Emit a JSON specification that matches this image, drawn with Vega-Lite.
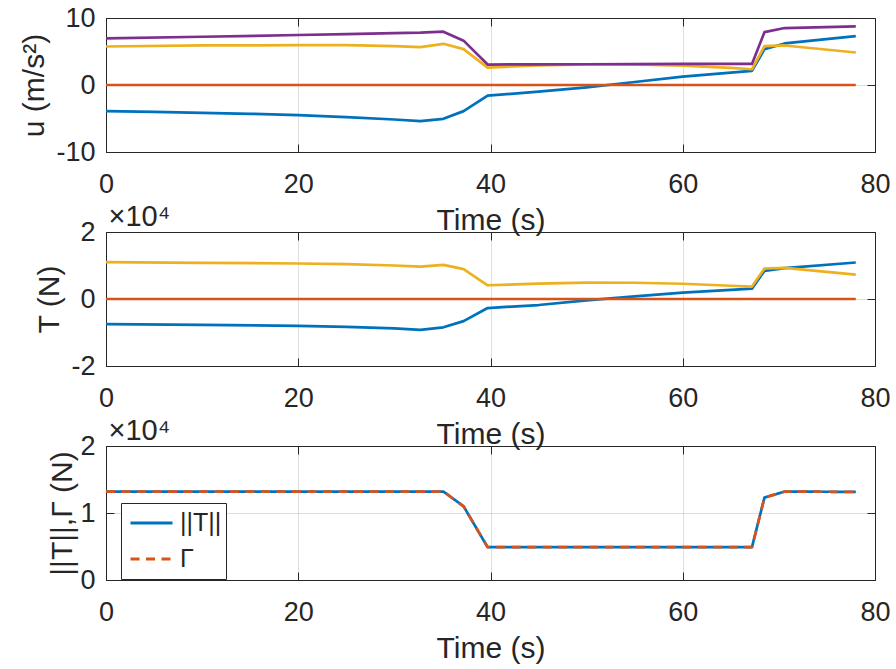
{
  "$schema": "https://vega.github.io/schema/vega-lite/v6.json",
  "background": "white",
  "padding": {"left": 18, "top": 3, "right": 0, "bottom": 0},
  "datasets": {
    "u": [
      {"s":"u1","t":0,"v":-3.9},{"s":"u1","t":5,"v":-4.0},{"s":"u1","t":10,"v":-4.15},{"s":"u1","t":15,"v":-4.3},{"s":"u1","t":20,"v":-4.5},{"s":"u1","t":25,"v":-4.8},{"s":"u1","t":30,"v":-5.15},{"s":"u1","t":32.7,"v":-5.4},{"s":"u1","t":35.1,"v":-5.05},{"s":"u1","t":37.2,"v":-3.9},{"s":"u1","t":39.7,"v":-1.6},{"s":"u1","t":45,"v":-1.0},{"s":"u1","t":50,"v":-0.35},{"s":"u1","t":55,"v":0.45},{"s":"u1","t":60,"v":1.25},{"s":"u1","t":65,"v":1.85},{"s":"u1","t":67.2,"v":2.1},{"s":"u1","t":68.5,"v":5.35},{"s":"u1","t":70.6,"v":6.2},{"s":"u1","t":78,"v":7.3},
      {"s":"u2","t":0,"v":0},{"s":"u2","t":78,"v":0},
      {"s":"u3","t":0,"v":5.75},{"s":"u3","t":10,"v":5.9},{"s":"u3","t":20,"v":5.95},{"s":"u3","t":25,"v":5.95},{"s":"u3","t":30,"v":5.8},{"s":"u3","t":32.7,"v":5.65},{"s":"u3","t":35.1,"v":6.15},{"s":"u3","t":37.2,"v":5.35},{"s":"u3","t":39.7,"v":2.6},{"s":"u3","t":45,"v":2.93},{"s":"u3","t":50,"v":3.08},{"s":"u3","t":55,"v":3.09},{"s":"u3","t":60,"v":2.89},{"s":"u3","t":65,"v":2.55},{"s":"u3","t":67.2,"v":2.35},{"s":"u3","t":68.5,"v":5.8},{"s":"u3","t":70.6,"v":5.9},{"s":"u3","t":78,"v":4.85},
      {"s":"u_norm","t":0,"v":6.95},{"s":"u_norm","t":10,"v":7.2},{"s":"u_norm","t":20,"v":7.46},{"s":"u_norm","t":25,"v":7.6},{"s":"u_norm","t":30,"v":7.75},{"s":"u_norm","t":32.7,"v":7.82},{"s":"u_norm","t":35.1,"v":7.96},{"s":"u_norm","t":37.2,"v":6.62},{"s":"u_norm","t":39.7,"v":3.05},{"s":"u_norm","t":45,"v":3.09},{"s":"u_norm","t":50,"v":3.1},{"s":"u_norm","t":55,"v":3.12},{"s":"u_norm","t":60,"v":3.15},{"s":"u_norm","t":65,"v":3.16},{"s":"u_norm","t":67.2,"v":3.15},{"s":"u_norm","t":68.5,"v":7.89},{"s":"u_norm","t":70.6,"v":8.5},{"s":"u_norm","t":78,"v":8.76}
    ],
    "T": [
      {"s":"T1","t":0,"v":-7500},{"s":"T1","t":10,"v":-7700},{"s":"T1","t":20,"v":-8000},{"s":"T1","t":25,"v":-8300},{"s":"T1","t":30,"v":-8750},{"s":"T1","t":32.7,"v":-9200},{"s":"T1","t":35.1,"v":-8450},{"s":"T1","t":37.2,"v":-6600},{"s":"T1","t":39.7,"v":-2700},{"s":"T1","t":45,"v":-1800},{"s":"T1","t":50,"v":-400},{"s":"T1","t":55,"v":800},{"s":"T1","t":60,"v":1900},{"s":"T1","t":65,"v":2700},{"s":"T1","t":67.2,"v":3100},{"s":"T1","t":68.5,"v":8400},{"s":"T1","t":70.6,"v":9200},{"s":"T1","t":78,"v":10900},
      {"s":"T2","t":0,"v":0},{"s":"T2","t":78,"v":0},
      {"s":"T3","t":0,"v":11000},{"s":"T3","t":10,"v":10800},{"s":"T3","t":20,"v":10600},{"s":"T3","t":25,"v":10400},{"s":"T3","t":30,"v":10000},{"s":"T3","t":32.7,"v":9650},{"s":"T3","t":35.1,"v":10200},{"s":"T3","t":37.2,"v":8900},{"s":"T3","t":39.7,"v":4100},{"s":"T3","t":45,"v":4600},{"s":"T3","t":50,"v":4900},{"s":"T3","t":55,"v":4850},{"s":"T3","t":60,"v":4550},{"s":"T3","t":65,"v":3950},{"s":"T3","t":67.2,"v":3700},{"s":"T3","t":68.5,"v":9100},{"s":"T3","t":70.6,"v":9300},{"s":"T3","t":78,"v":7300}
    ],
    "N": [
      {"s":"||T||","t":0,"v":13200},{"s":"||T||","t":35.1,"v":13200},{"s":"||T||","t":37.2,"v":11000},{"s":"||T||","t":39.7,"v":4900},{"s":"||T||","t":67.2,"v":4900},{"s":"||T||","t":68.5,"v":12300},{"s":"||T||","t":70.6,"v":13200},{"s":"||T||","t":78,"v":13150},
      {"s":"Γ","t":0,"v":13200},{"s":"Γ","t":35.1,"v":13200},{"s":"Γ","t":37.2,"v":11000},{"s":"Γ","t":39.7,"v":4900},{"s":"Γ","t":67.2,"v":4900},{"s":"Γ","t":68.5,"v":12300},{"s":"Γ","t":70.6,"v":13200},{"s":"Γ","t":78,"v":13150}
    ]
  },
  "spacing": 80,
  "bounds": "flush",
  "resolve": {"legend": {"color": "independent", "strokeDash": "independent"}, "scale": {"color": "independent", "strokeDash": "independent"}},
  "vconcat": [
    {
      "width": 769, "height": 134,
      "layer": [
        {"data": {"name": "u"}, "mark": {"type": "line", "strokeWidth": 2.7, "strokeJoin": "round"},
         "encoding": {
           "x": {"field": "t", "type": "quantitative", "scale": {"domain": [0, 80], "nice": false, "zero": false},
                 "axis": {"orient": "bottom", "values": [0, 20, 40, 60, 80], "grid": true, "title": "Time (s)", "titleY": 77, "titleBaseline": "alphabetic", "labelPadding": 27}},
           "y": {"field": "v", "type": "quantitative", "scale": {"domain": [-10, 10], "nice": false},
                 "axis": {"orient": "left", "values": [-10, 0, 10], "labelExpr": "'' + datum.value", "grid": true, "title": "u (m/s²)", "titleX": -63, "titleBaseline": "alphabetic", "labelPadding": 19}},
           "color": {"field": "s", "type": "nominal", "scale": {"domain": ["u1", "u2", "u3", "u_norm"], "range": ["#0072BD", "#D95319", "#EDB120", "#7E2F8E"]}, "legend": null}
         }},
        {"data": {"name": "u"}, "mark": {"type": "point", "opacity": 0},
         "encoding": {
           "x": {"field": "t", "type": "quantitative", "axis": {"orient": "top", "values": [0, 20, 40, 60, 80], "labels": false, "grid": false, "title": null}},
           "y": {"field": "v", "type": "quantitative", "axis": {"orient": "right", "values": [-10, 0, 10], "labels": false, "grid": false, "title": null}}
         }}
      ],
      "resolve": {"axis": {"x": "independent", "y": "independent"}}
    },
    {
      "width": 769, "height": 134,
      "layer": [
        {"data": {"name": "T"}, "mark": {"type": "line", "strokeWidth": 2.7, "strokeJoin": "round"},
         "encoding": {
           "x": {"field": "t", "type": "quantitative", "scale": {"domain": [0, 80], "nice": false, "zero": false},
                 "axis": {"orient": "bottom", "values": [0, 20, 40, 60, 80], "grid": true, "title": "Time (s)", "titleY": 77, "titleBaseline": "alphabetic", "labelPadding": 27}},
           "y": {"field": "v", "type": "quantitative", "scale": {"domain": [-20000, 20000], "nice": false},
                 "axis": {"orient": "left", "values": [-20000, 0, 20000], "labelExpr": "'' + (datum.value / 10000)", "grid": true, "title": "T (N)", "titleX": -48, "titleBaseline": "alphabetic", "labelPadding": 19}},
           "color": {"field": "s", "type": "nominal", "scale": {"domain": ["T1", "T2", "T3"], "range": ["#0072BD", "#D95319", "#EDB120"]}, "legend": null}
         }},
        {"data": {"name": "T"}, "mark": {"type": "point", "opacity": 0},
         "encoding": {
           "x": {"field": "t", "type": "quantitative", "axis": {"orient": "top", "values": [0, 20, 40, 60, 80], "labels": false, "grid": false, "title": "×10⁴", "titleX": 2, "titleY": -7, "titleAnchor": "start", "titleAlign": "left", "titleBaseline": "alphabetic", "titleAngle": 0, "titleFontSize": 29}},
           "y": {"field": "v", "type": "quantitative", "axis": {"orient": "right", "values": [-20000, 0, 20000], "labels": false, "grid": false, "title": null}}
         }}
      ],
      "resolve": {"axis": {"x": "independent", "y": "independent"}}
    },
    {
      "width": 769, "height": 134,
      "layer": [
        {"data": {"name": "N"}, "mark": {"type": "line", "strokeWidth": 2.7, "strokeJoin": "round"},
         "encoding": {
           "x": {"field": "t", "type": "quantitative", "scale": {"domain": [0, 80], "nice": false, "zero": false},
                 "axis": {"orient": "bottom", "values": [0, 20, 40, 60, 80], "grid": true, "title": "Time (s)", "titleY": 77, "titleBaseline": "alphabetic", "labelPadding": 27}},
           "y": {"field": "v", "type": "quantitative", "scale": {"domain": [0, 20000], "nice": false},
                 "axis": {"orient": "left", "values": [0, 10000, 20000], "labelExpr": "'' + (datum.value / 10000)", "grid": true, "title": "||T||,Γ (N)", "titleX": -35, "titleBaseline": "alphabetic", "labelPadding": 19}},
           "color": {"field": "s", "type": "nominal", "scale": {"domain": ["||T||", "Γ"], "range": ["#0072BD", "#D95319"]},
                     "legend": {"orient": "none", "legendX": 15, "legendY": 57, "title": null, "symbolType": "stroke", "symbolSize": 1764, "symbolStrokeWidth": 3, "symbolOffset": 4, "labelFontSize": 25, "labelColor": "#262626", "strokeColor": "#262626", "fillColor": "white", "padding": 4, "rowPadding": 4, "clipHeight": 32, "labelOffset": 6}},
           "strokeDash": {"field": "s", "type": "nominal", "scale": {"domain": ["||T||", "Γ"], "range": [[1, 0], [9, 6.5]]},
                     "legend": {"orient": "none", "legendX": 15, "legendY": 57, "title": null, "symbolType": "stroke", "symbolSize": 1764, "symbolStrokeWidth": 3, "symbolOffset": 4, "labelFontSize": 25, "labelColor": "#262626", "strokeColor": "#262626", "fillColor": "white", "padding": 4, "rowPadding": 4, "clipHeight": 32, "labelOffset": 6}}
         }},
        {"data": {"name": "N"}, "mark": {"type": "point", "opacity": 0},
         "encoding": {
           "x": {"field": "t", "type": "quantitative", "axis": {"orient": "top", "values": [0, 20, 40, 60, 80], "labels": false, "grid": false, "title": "×10⁴", "titleX": 2, "titleY": -7, "titleAnchor": "start", "titleAlign": "left", "titleBaseline": "alphabetic", "titleAngle": 0, "titleFontSize": 29}},
           "y": {"field": "v", "type": "quantitative", "axis": {"orient": "right", "values": [0, 10000, 20000], "labels": false, "grid": false, "title": null}}
         }}
      ],
      "resolve": {"axis": {"x": "independent", "y": "independent"}}
    }
  ],
  "config": {
    "font": "Liberation Sans",
    "view": {"stroke": "#262626", "strokeWidth": 1},
    "axis": {
      "labelFont": "Liberation Sans", "titleFont": "Liberation Sans",
      "labelFontSize": 27, "labelColor": "#262626", "labelFlush": false, "labelOverlap": false,
      "tickSize": -8, "tickColor": "#262626", "tickWidth": 1, "domain": false,
      "gridColor": "#262626", "gridOpacity": 0.15, "gridWidth": 1,
      "titleFontSize": 30, "titleFontWeight": "normal", "titleColor": "#262626"
    },
    "legend": {"labelFont": "Liberation Sans"}
  }
}
